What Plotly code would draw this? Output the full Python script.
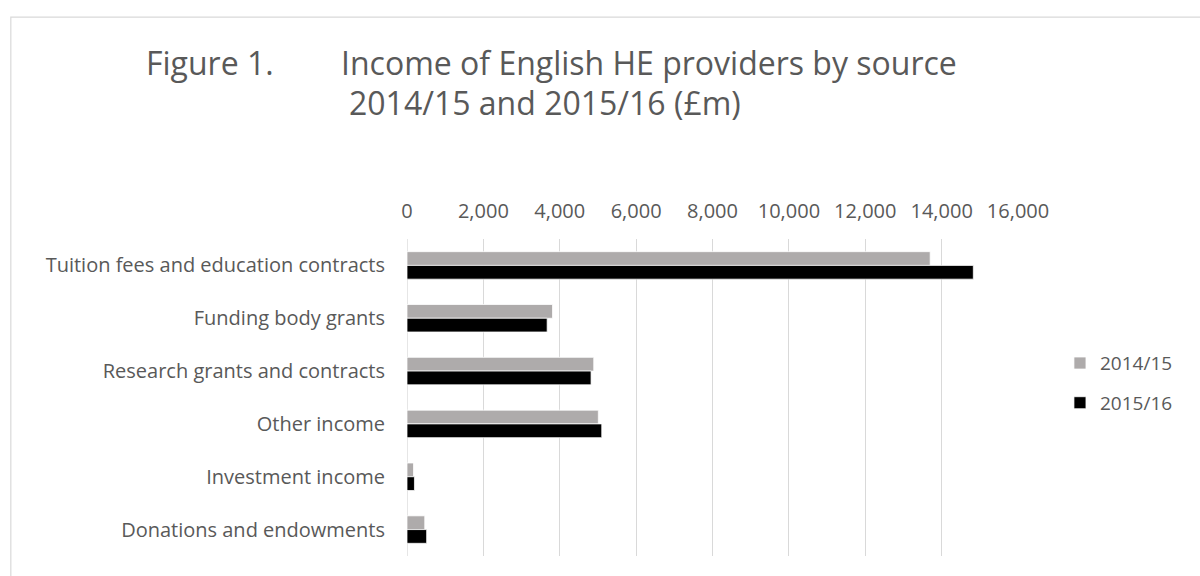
import plotly.graph_objects as go

categories = [
    "Tuition fees and education contracts",
    "Funding body grants",
    "Research grants and contracts",
    "Other income",
    "Investment income",
    "Donations and endowments",
]
series_names = ["2014/15", "2015/16"]
values_2014_15 = [13700, 3810, 4890, 5010, 170, 465]
values_2015_16 = [14830, 3670, 4820, 5100, 195, 515]
tick_values = [0, 2000, 4000, 6000, 8000, 10000, 12000, 14000, 16000]

W, H = 1200, 576
L, R, T, B = 406.5, 182, 238.5, 19.5
pw, ph = W - L - R, H - T - B

def px(xp):
    return (xp - L) / pw

def py(yp):
    return (H - B - yp) / ph

FONT = "Open Sans"
TXT = "#595959"

fig = go.Figure()
fig.add_trace(go.Bar(
    y=categories, x=values_2014_15, name=series_names[0], orientation="h",
    marker=dict(color="#AEABAB", line=dict(color="white", width=0.75)),
    legendgroup="a",
))
fig.add_trace(go.Bar(
    y=categories, x=values_2015_16, name=series_names[1], orientation="h",
    marker=dict(color="#000000", line=dict(color="white", width=0.75)),
    legendgroup="b",
))

fig.update_layout(
    width=W, height=H,
    margin=dict(l=L, r=R, t=T, b=B, autoexpand=False),
    paper_bgcolor="white", plot_bgcolor="white",
    barmode="group", bargap=0.48, bargroupgap=0,
    font=dict(family=FONT, color=TXT, size=20),
    showlegend=True,
    legend=dict(
        x=px(1060), y=py(344), xanchor="left", yanchor="top",
        font=dict(size=19, color=TXT), tracegroupgap=12,
        itemwidth=30, bgcolor="rgba(0,0,0,0)",
    ),
    xaxis=dict(
        side="top", range=[0, 16000], tickvals=tick_values,
        tickformat=",", showgrid=True, gridcolor="#D9D9D9", gridwidth=1.3,
        zeroline=False, showline=False, ticks="",
        tickfont=dict(size=20, color=TXT), ticklabelstandoff=16,
    ),
    yaxis=dict(
        autorange="reversed", showgrid=False, zeroline=False, showline=False,
        ticks="", tickfont=dict(size=20, color=TXT), ticklabelstandoff=21,
    ),
)

# left zero line (same style as gridlines)
fig.add_shape(type="line", xref="x", yref="paper", x0=0, x1=0, y0=0, y1=1,
              line=dict(color="#D9D9D9", width=1.3), layer="below")

# chart border
fig.add_shape(type="rect", xref="paper", yref="paper",
              x0=px(10), x1=px(1210), y0=py(16), y1=py(590),
              line=dict(color="#D9D9D9", width=1.2), fillcolor="rgba(0,0,0,0)")

fig.add_annotation(text="Figure 1.", xref="paper", yref="paper",
                   x=px(143), y=py(61), xanchor="left", yanchor="middle",
                   showarrow=False, font=dict(size=32, color=TXT, family=FONT))
fig.add_annotation(text="Income of English HE providers by source", xref="paper", yref="paper",
                   x=px(338), y=py(61), xanchor="left", yanchor="middle",
                   showarrow=False, font=dict(size=32, color=TXT, family=FONT))
fig.add_annotation(text="2014/15 and 2015/16 (£m)", xref="paper", yref="paper",
                   x=px(346), y=py(102), xanchor="left", yanchor="middle",
                   showarrow=False, font=dict(size=32, color=TXT, family=FONT))

fig.write_html("out.html", config={"displayModeBar": False},
               post_script="document.body.style.margin='0';")
